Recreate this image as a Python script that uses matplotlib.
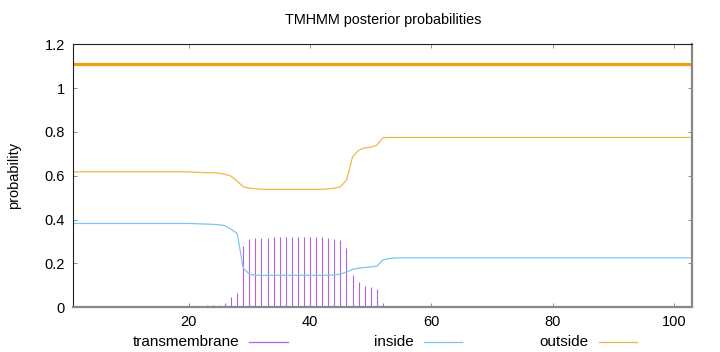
import matplotlib
matplotlib.use("Agg")
import matplotlib.pyplot as plt
from matplotlib.lines import Line2D
from matplotlib.ticker import FuncFormatter

plt.rcParams['font.family'] = ['Liberation Sans', 'DejaVu Sans']

# residue positions 1..103
pos = list(range(1, 104))

# transmembrane posterior (impulses), residues 20..52, zero elsewhere
tm_part = [0.012, 0.005, 0.006, 0.007, 0.008, 0.010, 0.017, 0.044, 0.065, 0.280,
           0.310, 0.316, 0.316, 0.316, 0.320, 0.320, 0.320, 0.320, 0.320, 0.320,
           0.320, 0.320, 0.318, 0.315, 0.311, 0.305, 0.268, 0.145, 0.114, 0.096,
           0.091, 0.081, 0.017]
transmembrane = [0.0] * 19 + tm_part + [0.0] * 51

inside_part = [0.382, 0.381, 0.380, 0.379, 0.378, 0.376, 0.372, 0.355, 0.336, 0.177,
               0.150, 0.145, 0.145, 0.145, 0.145, 0.145, 0.145, 0.145, 0.145, 0.145,
               0.145, 0.145, 0.145, 0.145, 0.147, 0.150, 0.160, 0.172, 0.177, 0.181,
               0.183, 0.187, 0.215, 0.222, 0.224]
inside = [0.382] * 19 + inside_part + [0.225] * 49

outside_part = [0.618, 0.616, 0.615, 0.614, 0.614, 0.612, 0.607, 0.598, 0.575, 0.550,
                0.543, 0.541, 0.538, 0.538, 0.538, 0.538, 0.538, 0.538, 0.538, 0.538,
                0.538, 0.538, 0.538, 0.540, 0.543, 0.550, 0.580, 0.686, 0.716, 0.728,
                0.730, 0.740, 0.774]
outside = [0.618] * 19 + outside_part + [0.775] * 51

# predicted topology line
topo_level = 1.11

c_tm = '#b462e2'
c_in = '#7fc6ee'
c_out = '#f0b848'
c_topo = '#e9a10c'

fig = plt.figure(figsize=(7.2, 3.52), dpi=100)
ax = fig.add_axes([0.1018, 0.1278, 0.86, 0.7458])

ax.vlines(pos, 0, transmembrane, color=c_tm, lw=0.8)
ax.plot(pos, inside, color=c_in, lw=0.9)
ax.plot(pos, outside, color=c_out, lw=0.9)
ax.plot([pos[0], pos[-1]], [topo_level, topo_level], color=c_topo, lw=2.3, solid_capstyle='butt')

ax.set_xlim(1, 103)
ax.set_ylim(0, 1.2)
ax.set_xticks([20, 40, 60, 80, 100])
ax.set_yticks([0, 0.2, 0.4, 0.6, 0.8, 1.0, 1.2])
ax.yaxis.set_major_formatter(FuncFormatter(lambda v, p: ('%g' % round(v, 2))))
ax.tick_params(direction='in', length=3, width=0.6, color='#808080',
               labelsize=10.5, top=True, right=True, pad=6)
for s in ['left', 'top']:
    ax.spines[s].set_color('#202020')
    ax.spines[s].set_linewidth(0.8)
for s in ['right', 'bottom']:
    ax.spines[s].set_color('#888888')
    ax.spines[s].set_linewidth(1.6)

ax.set_ylabel('probability', fontsize=10.5, labelpad=17)
fig.text(0.532, 0.943, 'TMHMM posterior probabilities', ha='center', va='center', fontsize=10.4)

# legend along the bottom
ly = 1 - 342 / 352
items = [('transmembrane', c_tm, 239, 249, 288),
         ('inside', c_in, 414, 424, 462),
         ('outside', c_out, 589, 599, 637)]
for name, col, tx, x0, x1 in items:
    fig.text(tx / 720, ly, name, ha='right', va='center', fontsize=11)
    fig.add_artist(Line2D([x0 / 720, x1 / 720], [ly, ly], color=col, lw=0.9,
                          transform=fig.transFigure))

fig.savefig('out.png', dpi=100)
